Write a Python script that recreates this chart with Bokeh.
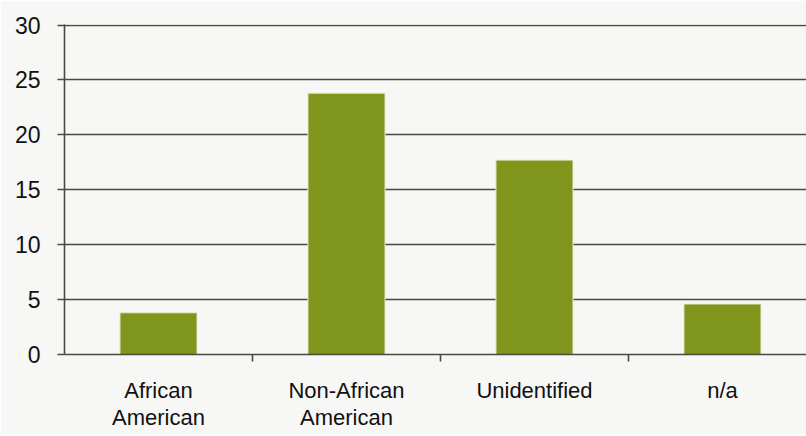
from bokeh.plotting import figure
from bokeh.models import Range1d, FixedTicker, ColumnDataSource
from bokeh.embed import file_html
from bokeh.resources import INLINE

categories = ["African\nAmerican", "Non-African\nAmerican", "Unidentified", "n/a"]
values = [3.8, 23.8, 17.7, 4.6]
y_ticks = [0, 5, 10, 15, 20, 25, 30]

xs = [i + 0.5 for i in range(len(categories))]
src = ColumnDataSource(dict(x=xs, top=values))

p = figure(frame_width=742, frame_height=330, output_backend="svg", toolbar_location=None,
           x_range=Range1d(0, 3.947), y_range=Range1d(0, 30.05),
           min_border_left=64, min_border_right=0, min_border_top=24, min_border_bottom=80)
p.background_fill_color = "#f7f7f5"
p.border_fill_color = "#f7f7f5"
p.outline_line_color = None

p.vbar(x="x", top="top", width=0.41, source=src, fill_color="#80951c",
       line_color="#e8ecd0", line_width=1)

p.xgrid.visible = False
p.ygrid.ticker = FixedTicker(ticks=y_ticks)
p.ygrid.grid_line_color = "#4a4a40"
p.ygrid.grid_line_width = 1.6

p.yaxis.ticker = FixedTicker(ticks=y_ticks)
p.yaxis.axis_line_color = "#4a4a40"
p.yaxis.axis_line_width = 1.6
p.yaxis.major_tick_line_color = "#4a4a40"
p.yaxis.major_tick_line_width = 1.6
p.yaxis.major_tick_out = 7
p.yaxis.major_tick_in = 0
p.yaxis.minor_tick_line_color = None
p.yaxis.major_label_standoff = 17
p.yaxis.major_label_text_font = "Liberation Sans"
p.yaxis.major_label_text_font_size = "23px"
p.yaxis.major_label_text_color = "#111111"

p.xaxis.ticker = FixedTicker(ticks=xs, minor_ticks=[1, 2, 3])
p.xaxis.major_label_overrides = {x: c for x, c in zip(xs, categories)}
p.xaxis.axis_line_color = "#4a4a40"
p.xaxis.axis_line_width = 1.6
p.xaxis.major_tick_line_color = None
p.xaxis.minor_tick_line_color = "#4a4a40"
p.xaxis.minor_tick_line_width = 1.6
p.xaxis.minor_tick_out = 7
p.xaxis.minor_tick_in = 0
p.xaxis.major_label_standoff = 16
p.xaxis.major_label_text_font = "Liberation Sans"
p.xaxis.major_label_text_font_size = "22px"
p.xaxis.major_label_text_line_height = 1.1
p.xaxis.major_label_text_color = "#111111"

open("out.html", "w").write(file_html(p, INLINE))
